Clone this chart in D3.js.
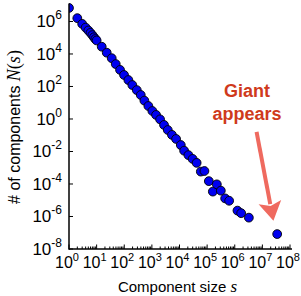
<!DOCTYPE html>
<html>
<head>
<meta charset="utf-8">
<script src="https://cdn.jsdelivr.net/npm/d3@7"></script>
<style>
  body { margin: 0; background: #fff; }
  svg { display: block; font-family: "Liberation Sans", Arial, sans-serif; }
</style>
</head>
<body>
<script>
// component sizes s and counts N(s)
const sizes = [1, 2, 3, 4, 5, 6, 7, 8, 9, 10,
  15.3, 23.2, 35.2, 49.2, 70.5, 98.4, 141, 196, 284, 396,
  535, 746, 1042, 1419, 1982, 2754, 3767, 5335, 7534, 11140,
  14690, 20990, 29850, 41690, 59160, 79800, 115300, 161000, 224400, 313200,
  448700, 626600, 1253000, 1706000, 3243000, 34360000];
const counts = [6.8e6, 1.6e6, 7.1e5, 4.2e5, 2.8e5, 2.0e5, 1.45e5, 1.07e5, 8.3e4, 6.8e4,
  2.8e4, 1.2e4, 5.5e3, 2.4e3, 1.05e3, 510, 250, 123, 60, 30,
  13.5, 6.3, 3.1, 1.78, 0.95, 0.43, 0.21, 0.105, 0.059, 0.025,
  0.0112, 0.006, 0.0035, 0.002, 5.8e-4, 6.3e-4, 1.5e-4, 3.4e-5, 9.5e-5, 3.9e-5,
  1.3e-5, 9.3e-6, 2.3e-6, 1.6e-6, 8.5e-7, 8.3e-8];
const xTickExps = [0, 1, 2, 3, 4, 5, 6, 7, 8];
const yTickExps = [-8, -6, -4, -2, 0, 2, 4, 6];

const W = 301, H = 296;
const plotLeft = 69, plotRight = 290, plotTop = 3.6, plotBottom = 249;

const svg = d3.select('body').append('svg')
  .attr('width', W).attr('height', H);

const x = d3.scaleLog().domain([1, 1e8]).range([plotLeft, plotRight]);
const y = d3.scaleLog().domain([1e-8, Math.pow(10, 7.1)]).range([plotBottom, plotTop]);

svg.append('clipPath').attr('id', 'plot')
  .append('rect')
  .attr('x', plotLeft).attr('y', 0)
  .attr('width', plotRight - plotLeft + 6).attr('height', plotBottom);

// points
svg.append('g')
  .attr('clip-path', 'url(#plot)')
  .selectAll('circle')
  .data(sizes.map((s, i) => ({ s, n: counts[i] })))
  .join('circle')
  .attr('cx', d => x(d.s))
  .attr('cy', d => y(d.n))
  .attr('r', 4.4)
  .attr('fill', '#0000f0')
  .attr('stroke', '#000')
  .attr('stroke-width', 0.9);

// x axis: inward ticks, with minor ticks
const xMinor = [];
for (let e = 0; e < 8; e++) for (let k = 2; k < 10; k++) xMinor.push(k * Math.pow(10, e));

const xAxis = svg.append('g').attr('transform', `translate(0,${plotBottom})`);
xAxis.append('line')
  .attr('x1', plotLeft).attr('x2', plotRight + 2)
  .attr('stroke', '#000').attr('stroke-width', 1.5);
xAxis.selectAll('.minor').data(xMinor).join('line')
  .attr('x1', d => x(d)).attr('x2', d => x(d))
  .attr('y1', 0).attr('y2', -2.5)
  .attr('stroke', '#000').attr('stroke-width', 1);
xAxis.selectAll('.major').data(xTickExps).join('line')
  .attr('x1', d => x(Math.pow(10, d))).attr('x2', d => x(Math.pow(10, d)))
  .attr('y1', 0).attr('y2', -4.5)
  .attr('stroke', '#000').attr('stroke-width', 1);

const xLab = xAxis.selectAll('text').data(xTickExps).join('text')
  .attr('x', d => x(Math.pow(10, d)) - 14)
  .attr('y', 19)
  .attr('font-size', 16);
xLab.append('tspan').text('10');
xLab.append('tspan').attr('dy', -7).attr('font-size', 11).text(d => d);

// y axis: inward ticks on every second decade
const yAxis = svg.append('g').attr('transform', `translate(${plotLeft},0)`);
yAxis.append('line')
  .attr('y1', plotTop).attr('y2', plotBottom + 0.75)
  .attr('stroke', '#000').attr('stroke-width', 1.5);
yAxis.selectAll('.major').data(yTickExps).join('line')
  .attr('y1', d => y(Math.pow(10, d))).attr('y2', d => y(Math.pow(10, d)))
  .attr('x1', 0).attr('x2', 4)
  .attr('stroke', '#000').attr('stroke-width', 1);

const yLab = yAxis.selectAll('text').data(yTickExps).join('text')
  .attr('x', -7)
  .attr('y', d => y(Math.pow(10, d)) + 6)
  .attr('text-anchor', 'end')
  .attr('font-size', 17);
yLab.append('tspan').text('10');
yLab.append('tspan').attr('dy', -8).attr('font-size', 12).text(d => d);

// axis titles
const math = '"Liberation Serif", "DejaVu Serif", serif';
const xt = svg.append('text')
  .attr('x', (plotLeft + plotRight) / 2 - 2).attr('y', 292)
  .attr('text-anchor', 'middle').attr('font-size', 15);
xt.append('tspan').text('Component size ');
xt.append('tspan').attr('font-family', math).attr('font-style', 'italic').attr('font-size', 17).text('s');

const yt = svg.append('text')
  .attr('transform', `translate(20,127) rotate(-90)`)
  .attr('text-anchor', 'middle').attr('font-size', 16);
yt.append('tspan').text('# of components ');
yt.append('tspan').attr('font-family', math).attr('font-style', 'italic').attr('font-size', 18).text('N');
yt.append('tspan').attr('font-family', math).attr('font-size', 18).text('(');
yt.append('tspan').attr('font-family', math).attr('font-style', 'italic').attr('font-size', 18).text('s');
yt.append('tspan').attr('font-family', math).attr('font-size', 18).text(')');

// annotation
const note = svg.append('text')
  .attr('text-anchor', 'middle')
  .attr('fill', '#cf3a1c')
  .attr('font-weight', 'bold')
  .attr('font-size', 18);
note.append('tspan').attr('x', 247).attr('y', 97).text('Giant');
note.append('tspan').attr('x', 247).attr('y', 120).text('appears');

// arrow pointing at the giant component
const tail = [x(Math.pow(10, 6.79)), y(Math.pow(10, -0.8))];
const tip = [x(Math.pow(10, 7.4)), y(Math.pow(10, -6.26))];
const dx = tip[0] - tail[0], dy = tip[1] - tail[1];
const len = Math.hypot(dx, dy);
const ux = dx / len, uy = dy / len;
const headLen = 19, headHalf = 11.5;
const base = [tip[0] - ux * headLen, tip[1] - uy * headLen];

svg.append('line')
  .attr('x1', tail[0]).attr('y1', tail[1])
  .attr('x2', base[0] + ux * 2).attr('y2', base[1] + uy * 2)
  .attr('stroke', '#ef6a5f').attr('stroke-width', 4);
svg.append('path')
  .attr('d', `M${tip[0]},${tip[1]} L${base[0] - uy * headHalf},${base[1] + ux * headHalf}
    L${base[0] + ux * 4},${base[1] + uy * 4} L${base[0] + uy * headHalf},${base[1] - ux * headHalf} Z`)
  .attr('fill', '#ef6a5f');
</script>
</body>
</html>
